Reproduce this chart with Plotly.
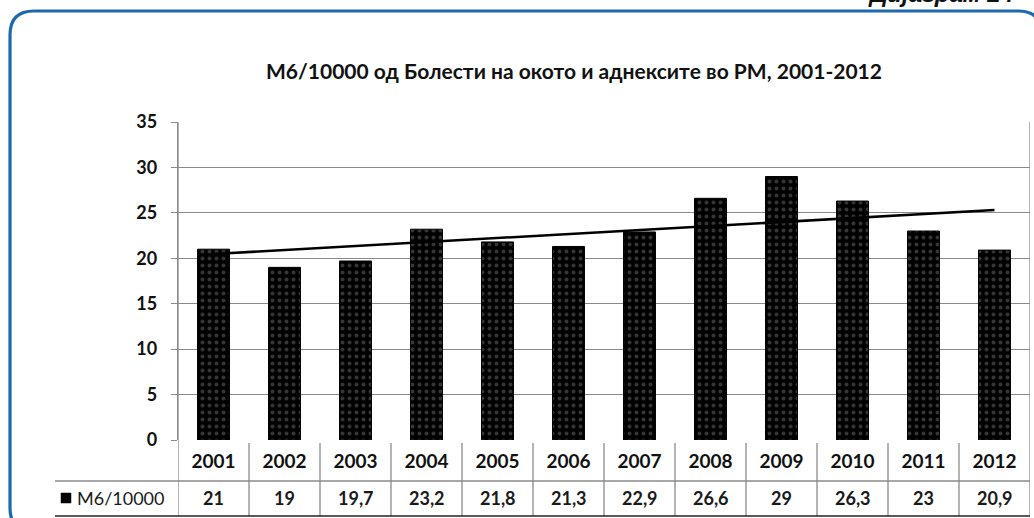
import numpy as np
import plotly.graph_objects as go

years = ["2001", "2002", "2003", "2004", "2005", "2006", "2007", "2008", "2009", "2010", "2011", "2012"]
values = [21, 19, 19.7, 23.2, 21.8, 21.3, 22.9, 26.6, 29, 26.3, 23, 20.9]
value_labels = ["21", "19", "19,7", "23,2", "21,8", "21,3", "22,9", "26,6", "29", "26,3", "23", "20,9"]
series_name = "М6/10000"
title_text = "М6/10000 од Болести на окото и аднекситe во РМ, 2001-2012"
y_ticks = [0, 5, 10, 15, 20, 25, 30, 35]

W, H = 1034, 518
L, R, T, B = 178, 1030, 122, 440
FONT = "Lato"

def px(x):
    return (x - L) / (R - L)

def py(y):
    return (B - y) / (B - T)

n = len(years)
idx = list(range(n))

# linear trend
xi = np.arange(1, n + 1)
slope, intercept = np.polyfit(xi, values, 1)
trend = [intercept + slope * xi[0], intercept + slope * xi[-1]]

fig = go.Figure()
fig.add_trace(go.Bar(
    x=idx, y=values, name=series_name,
    marker=dict(color="black", line=dict(color="black", width=1),
                pattern=dict(shape=".", bgcolor="black", fgcolor="#6a6a6a", size=7, solidity=0.25)),
    showlegend=False,
))
fig.add_trace(go.Scatter(
    x=[idx[0], idx[-1]], y=trend, mode="lines",
    line=dict(color="black", width=2.6), showlegend=False, hoverinfo="skip",
))

shapes = []
grid_col = "#8a8a8a"
# vertical separators of data table
for k in range(n + 1):
    xv = k - 0.5
    y0 = py(443) if 0 < k < n else py(T)
    shapes.append(dict(type="line", xref="x", yref="paper", x0=xv, x1=xv,
                       y0=y0, y1=py(516), line=dict(color=grid_col, width=1.3)))
# horizontal table lines
shapes.append(dict(type="line", xref="paper", yref="paper", x0=px(55), x1=px(R),
                   y0=py(481), y1=py(481), line=dict(color=grid_col, width=1.3)))
shapes.append(dict(type="line", xref="paper", yref="paper", x0=px(55), x1=px(R),
                   y0=py(516), y1=py(516), line=dict(color="#222", width=1.3)))
# legend key square
shapes.append(dict(type="rect", xref="paper", yref="paper", x0=px(61), x1=px(71),
                   y0=py(503), y1=py(493), fillcolor="black", line=dict(color="black", width=0.5)))

# blue rounded frame
def P(x, y):
    return f"{px(x):.5f},{py(y):.5f}"
r = 24
fx0, fy0, fx1, fy1 = 10, 11, 1042, 532
path = (f"M {P(fx0, fy1 - r)} L {P(fx0, fy0 + r)} Q {P(fx0, fy0)} {P(fx0 + r, fy0)} "
        f"L {P(fx1 - r, fy0)} Q {P(fx1, fy0)} {P(fx1, fy0 + r)} L {P(fx1, fy1 - r)} "
        f"Q {P(fx1, fy1)} {P(fx1 - r, fy1)} L {P(fx0 + r, fy1)} Q {P(fx0, fy1)} {P(fx0, fy1 - r)} Z")
shapes.append(dict(type="path", xref="paper", yref="paper", path=path,
                   line=dict(color="#1c6aad", width=3.2), fillcolor="rgba(0,0,0,0)"))

annotations = []
for i, lab in zip(idx, value_labels):
    annotations.append(dict(x=i, xref="x", y=py(498), yref="paper", text=lab, showarrow=False,
                            font=dict(family=FONT, size=18, color="#1a1a1a", weight="bold"),
                            xanchor="center", yanchor="middle"))
annotations.append(dict(x=px(75), xref="paper", y=py(498), yref="paper", text=series_name,
                        showarrow=False, xanchor="left", yanchor="middle",
                        font=dict(family=FONT, size=18, color="#1a1a1a")))
annotations.append(dict(x=px(574), xref="paper", y=py(70), yref="paper", text=title_text,
                        showarrow=False, xanchor="center", yanchor="middle",
                        font=dict(family=FONT, size=21, color="#111", weight="bold")))
annotations.append(dict(x=px(1016), xref="paper", y=py(9), yref="paper",
                        text="<b><i>Дијаграм 24</i></b>", showarrow=False,
                        xanchor="right", yanchor="bottom",
                        font=dict(family="Liberation Sans", size=24, color="#111")))

fig.update_layout(
    width=W, height=H,
    margin=dict(l=L, r=W - R, t=T, b=H - B, pad=0),
    paper_bgcolor="white", plot_bgcolor="white",
    bargap=0.55,
    shapes=shapes, annotations=annotations,
    font=dict(family=FONT, color="#111"),
)
fig.update_xaxes(
    type="linear", range=[-0.5, n - 0.5], tickvals=idx, ticktext=years,
    showgrid=False, showline=False, zeroline=False, ticks="",
    tickfont=dict(family=FONT, size=19, color="#111", weight="bold"), ticklabelstandoff=8,
)
fig.update_yaxes(
    range=[0, 35], tickvals=y_ticks, showgrid=True, gridcolor=grid_col, gridwidth=1.3,
    zeroline=False, showline=True, linecolor=grid_col, linewidth=1.3,
    ticks="outside", ticklen=6, tickcolor=grid_col, tickwidth=1.3,
    tickfont=dict(family=FONT, size=18, color="#111", weight="bold"), ticklabelstandoff=10,
)
fig.write_html("out.html", config={"displayModeBar": False},
               post_script="document.body.style.margin='0';document.body.style.overflow='hidden';")
